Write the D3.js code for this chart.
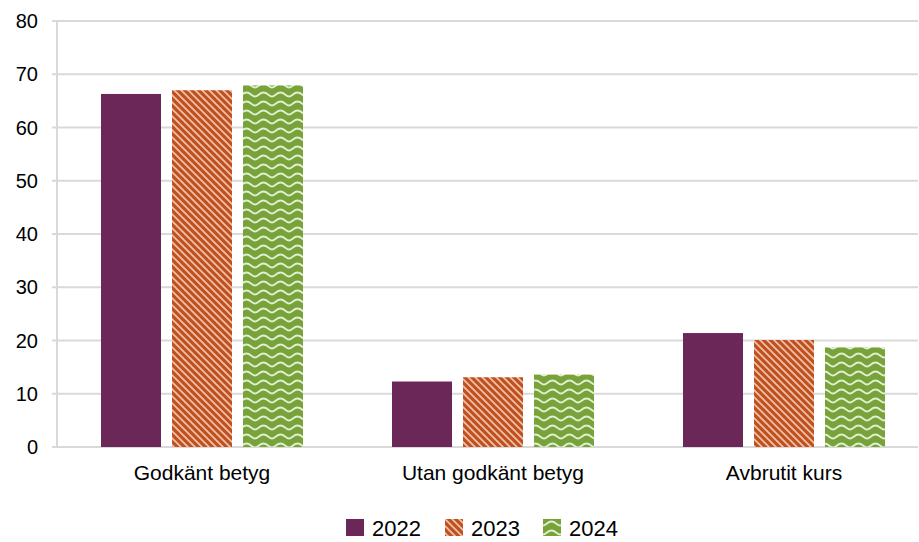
<!DOCTYPE html>
<html>
<head>
<meta charset="utf-8">
<script src="https://cdn.jsdelivr.net/npm/d3@7"></script>
<style>
  body { margin: 0; background: #fff; }
  svg { display: block; font-family: "Liberation Sans", Arial, sans-serif; }
</style>
</head>
<body>
<div id="chart"></div>
<script>
const categories = ["Godkänt betyg", "Utan godkänt betyg", "Avbrutit kurs"];
const years = ["2022", "2023", "2024"];
const values2022 = [66.3, 12.3, 21.4];
const values2023 = [67.0, 13.1, 20.1];
const values2024 = [67.9, 13.6, 18.7];
const yTicks = [0, 10, 20, 30, 40, 50, 60, 70, 80];

function renderChart() {
    const width = 919, height = 542;
    const left = 56.5, right = 929.5, top = 21, bottom = 447;

    const svg = d3.select("#chart").append("svg")
        .attr("width", width)
        .attr("height", height);

    const defs = svg.append("defs");

    // diagonal stripes for 2023
    const p1 = defs.append("pattern")
        .attr("id", "stripes")
        .attr("patternUnits", "userSpaceOnUse")
        .attr("width", 7).attr("height", 7);
    p1.append("rect").attr("width", 7).attr("height", 7).attr("fill", "#c0501f");
    p1.append("path")
        .attr("d", "M-2,-2 L9,9 M-2,5 L2,9 M5,-2 L9,2")
        .attr("stroke", "#efc0a6").attr("stroke-width", 1.8);

    // waves for 2024
    const p2 = defs.append("pattern")
        .attr("id", "waves")
        .attr("patternUnits", "userSpaceOnUse")
        .attr("width", 17).attr("height", 9);
    p2.append("rect").attr("width", 17).attr("height", 9).attr("fill", "#78a23a");
    p2.append("path")
        .attr("d", "M0,6.5 C3,6.5 4.5,2.5 8.5,2.5 C12.5,2.5 14,6.5 17,6.5")
        .attr("fill", "none")
        .attr("stroke", "#e2eed0").attr("stroke-width", 1.8);

    const fills = ["#6b2757", "url(#stripes)", "url(#waves)"];
    const series = [values2022, values2023, values2024];

    const x0 = d3.scaleBand().domain(categories).range([left, right]);
    const x1 = d3.scaleBand().domain(years).range([44.5, 246.5]).paddingInner(11 / 71).paddingOuter(0);
    const y = d3.scaleLinear().domain([0, 80]).range([bottom, top]);

    // gridlines
    svg.append("g")
        .selectAll("line")
        .data(yTicks)
        .join("line")
        .attr("x1", 52).attr("x2", 918)
        .attr("y1", d => y(d)).attr("y2", d => y(d))
        .attr("stroke", "#d9d9d9").attr("stroke-width", 2);

    svg.append("line")
        .attr("x1", 57).attr("x2", 57)
        .attr("y1", top).attr("y2", bottom)
        .attr("stroke", "#d9d9d9").attr("stroke-width", 2);

    // tick labels
    svg.append("g")
        .selectAll("text")
        .data(yTicks)
        .join("text")
        .attr("x", 38)
        .attr("y", d => y(d))
        .attr("dy", "0.35em")
        .attr("text-anchor", "end")
        .attr("font-size", 20)
        .attr("fill", "#000")
        .text(d => d);

    // bars
    const rows = [];
    categories.forEach((c, i) => {
        years.forEach((yr, j) => rows.push({ cat: c, year: yr, j: j, value: series[j][i] }));
    });

    svg.append("g")
        .selectAll("rect")
        .data(rows)
        .join("rect")
        .attr("x", d => x0(d.cat) + x1(d.year))
        .attr("width", x1.bandwidth())
        .attr("y", d => y(d.value))
        .attr("height", d => y(0) - y(d.value))
        .attr("fill", d => fills[d.j]);

    // category labels
    svg.append("g")
        .selectAll("text")
        .data(categories)
        .join("text")
        .attr("x", d => x0(d) + x1("2023") + x1.bandwidth() / 2)
        .attr("y", 480)
        .attr("text-anchor", "middle")
        .attr("font-size", 21)
        .attr("fill", "#000")
        .text(d => d);

    // legend
    const legendX = [346, 445, 543];
    const legend = svg.append("g")
        .selectAll("g")
        .data(years)
        .join("g")
        .attr("transform", (d, i) => `translate(${legendX[i]},519)`);
    legend.append("rect")
        .attr("width", 18).attr("height", 17)
        .attr("fill", (d, i) => fills[i]);
    legend.append("text")
        .attr("x", 26).attr("y", 9)
        .attr("dy", "0.35em")
        .attr("font-size", 22)
        .attr("fill", "#000")
        .text(d => d);
}

document.addEventListener("DOMContentLoaded", function() {
    renderChart();
});
</script>
</body>
</html>
